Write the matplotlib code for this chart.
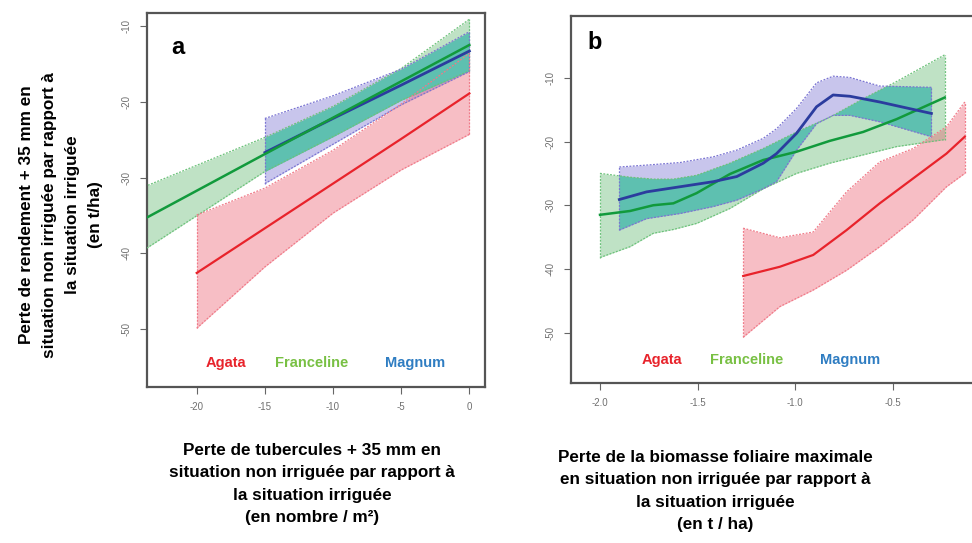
import numpy as np
import matplotlib
matplotlib.use('Agg')
import matplotlib.pyplot as plt

# Panel a : perte de tubercules (nombre / m2)
a_green_x = [-24.5, -15, -10, -5, 0]
a_green_y = [-36.1, -26.9, -22.1, -17.3, -12.5]
a_green_hi = [-31.7, -24.7, -20.6, -15.6, -9.1]
a_green_lo = [-40.3, -29.2, -24.6, -19.8, -15.9]

a_blue_x = [-15, -10, -5, 0]
a_blue_y = [-26.7, -22.2, -17.8, -13.3]
a_blue_hi = [-22.2, -19.2, -15.7, -10.75]
a_blue_lo = [-30.8, -25.6, -20.4, -16.0]

a_red_x = [-20, -15, -10, -5, 0]
a_red_y = [-42.6, -36.7, -30.8, -24.9, -18.9]
a_red_hi = [-34.95, -31.4, -26.4, -20.3, -13.6]
a_red_lo = [-49.9, -41.8, -34.7, -29.0, -24.3]

# Panel b : perte de biomasse foliaire maximale (t / ha)
b_green_x = [-2.0, -1.846, -1.727, -1.624, -1.505, -1.334, -1.163, -0.992, -0.822, -0.651, -0.480, -0.233]
b_green_y = [-31.5, -30.9, -30.0, -29.7, -28.1, -25.1, -22.9, -21.6, -19.9, -18.5, -16.5, -13.1]
b_green_hi = [-25.0, -25.6, -25.9, -25.9, -25.3, -23.4, -21.1, -18.5, -16.2, -13.3, -10.6, -6.4]
b_green_lo = [-38.2, -36.5, -34.4, -33.8, -32.85, -30.5, -27.4, -25.0, -23.4, -22.1, -20.8, -19.7]

b_blue_x = [-1.901, -1.761, -1.590, -1.419, -1.299, -1.163, -1.095, -0.992, -0.890, -0.805, -0.719, -0.566, -0.301]
b_blue_y = [-29.1, -27.9, -27.1, -26.3, -25.5, -23.4, -21.9, -18.7, -14.55, -12.7, -12.9, -13.8, -15.6]
b_blue_hi = [-24.0, -23.7, -23.3, -22.4, -21.35, -19.5, -18.0, -14.8, -10.8, -9.75, -9.95, -11.3, -11.5]
b_blue_lo = [-33.9, -32.1, -31.3, -30.2, -29.2, -27.4, -26.3, -21.35, -17.2, -15.9, -15.9, -16.9, -19.25]

b_red_x = [-1.266, -1.078, -0.907, -0.736, -0.566, -0.395, -0.224, -0.130]
b_red_y = [-41.1, -39.65, -37.8, -33.9, -29.7, -25.8, -21.9, -19.25]
b_red_hi = [-33.6, -35.1, -34.2, -27.9, -23.2, -21.1, -17.7, -13.8]
b_red_lo = [-50.7, -45.9, -43.3, -40.2, -36.5, -32.3, -27.1, -25.0]

varieties = ['Agata', 'Franceline', 'Magnum']
a_xticks = [-20, -15, -10, -5, 0]
a_xticklabels = ['-20', '-15', '-10', '-5', '0']
b_xticks = [-2.0, -1.5, -1.0, -0.5]
b_xticklabels = ['-2.0', '-1.5', '-1.0', '-0.5']
yticks = [-50, -40, -30, -20, -10]
yticklabels = ['-50', '-40', '-30', '-20', '-10']

FONT = ['Liberation Sans Narrow', 'Liberation Sans', 'DejaVu Sans']
plt.rcParams['font.family'] = FONT

# colours
line_col = {'red': '#e8232b', 'green': '#119a3c', 'blue': '#2b3c9e'}
fill_col = {'red': ('#eb5468', 0.38), 'green': ('#2ea040', 0.30), 'blue': ('#5a50c8', 0.33)}
edge_col = {'red': '#f07a88', 'green': '#6cc27a', 'blue': '#7a74d2'}
teal = '#5ec0b0'
text_col = {'Agata': '#e8232b', 'Franceline': '#78c043', 'Magnum': '#2f7dc2'}


def band(ax, x, y, hi, lo, key):
    c, a = fill_col[key]
    ax.fill_between(x, lo, hi, color=c, alpha=a, lw=0, zorder=1)
    return (x, hi, lo, key)


def edges(ax, x, y, hi, lo, key):
    ax.plot(x, hi, color=edge_col[key], lw=0.9, ls=(0, (1.5, 1.2)), zorder=3)
    ax.plot(x, lo, color=edge_col[key], lw=0.9, ls=(0, (1.5, 1.2)), zorder=3)
    ax.plot([x[0], x[0]], [lo[0], hi[0]], color=edge_col[key], lw=0.9, ls=(0, (1.5, 1.2)), zorder=3)
    ax.plot([x[-1], x[-1]], [lo[-1], hi[-1]], color=edge_col[key], lw=0.9, ls=(0, (1.5, 1.2)), zorder=3)


def overlap(ax, g, b):
    # teal where the green and blue bands cover each other
    x0 = max(g[0][0], b[0][0])
    x1 = min(g[0][-1], b[0][-1])
    xs = np.linspace(x0, x1, 500)
    hi = np.minimum(np.interp(xs, g[0], g[1]), np.interp(xs, b[0], b[1]))
    lo = np.maximum(np.interp(xs, g[0], g[2]), np.interp(xs, b[0], b[2]))
    ax.fill_between(xs, lo, hi, where=hi > lo, interpolate=True, color=teal, lw=0, zorder=2)


def style(ax, xt, xtl, xlim, ylim):
    ax.set_xlim(*xlim)
    ax.set_ylim(*ylim)
    ax.set_xticks(xt)
    ax.set_xticklabels(xtl)
    ax.set_yticks(yticks)
    ax.set_yticklabels(yticklabels, rotation=90, va='center')
    for s in ax.spines.values():
        s.set_color('#555555')
        s.set_linewidth(1.6)
    ax.tick_params(length=5, width=0.8, color='#666666', labelsize=7,
                   labelcolor='#707070', pad=6)
    for lab in ax.get_xticklabels() + ax.get_yticklabels():
        lab.set_family(['Liberation Sans', 'DejaVu Sans'])


fig = plt.figure(figsize=(9.72, 5.43), dpi=100)

# ---- panel a
ax1 = fig.add_axes([0.1512, 0.2873, 0.3478, 0.6887])
g = band(ax1, a_green_x, a_green_y, a_green_hi, a_green_lo, 'green')
b = band(ax1, a_blue_x, a_blue_y, a_blue_hi, a_blue_lo, 'blue')
band(ax1, a_red_x, a_red_y, a_red_hi, a_red_lo, 'red')
overlap(ax1, g, b)
edges(ax1, a_green_x, a_green_y, a_green_hi, a_green_lo, 'green')
edges(ax1, a_blue_x, a_blue_y, a_blue_hi, a_blue_lo, 'blue')
edges(ax1, a_red_x, a_red_y, a_red_hi, a_red_lo, 'red')
ax1.plot(a_red_x, a_red_y, color=line_col['red'], lw=1.6, zorder=4)
ax1.plot(a_blue_x, a_blue_y, color=line_col['blue'], lw=2.0, zorder=4)
ax1.plot(a_green_x, a_green_y, color=line_col['green'], lw=1.8, zorder=5)
style(ax1, a_xticks, a_xticklabels, (-23.65, 1.15), (-57.66, -8.28))
ax1.text(-21.4, -12.8, 'a', fontsize=17, fontweight='bold', ha='center', va='center')
for name, xp in zip(varieties, [-17.85, -11.6, -4.0]):
    ax1.text(xp, -54.5, name, color=text_col[name], fontsize=10.5, fontweight='bold',
             ha='center', va='center')

# ---- panel b
ax2 = fig.add_axes([0.5874, 0.2952, 0.4156, 0.6758])
g = band(ax2, b_green_x, b_green_y, b_green_hi, b_green_lo, 'green')
b = band(ax2, b_blue_x, b_blue_y, b_blue_hi, b_blue_lo, 'blue')
band(ax2, b_red_x, b_red_y, b_red_hi, b_red_lo, 'red')
overlap(ax2, g, b)
edges(ax2, b_green_x, b_green_y, b_green_hi, b_green_lo, 'green')
edges(ax2, b_blue_x, b_blue_y, b_blue_hi, b_blue_lo, 'blue')
edges(ax2, b_red_x, b_red_y, b_red_hi, b_red_lo, 'red')
ax2.plot(b_red_x, b_red_y, color=line_col['red'], lw=1.6, zorder=4)
ax2.plot(b_green_x, b_green_y, color=line_col['green'], lw=1.8, zorder=4)
ax2.plot(b_blue_x, b_blue_y, color=line_col['blue'], lw=2.0, zorder=5)
style(ax2, b_xticks, b_xticklabels, (-2.149, -0.078), (-57.84, -0.27))
ax2.text(-2.03, -4.5, 'b', fontsize=17, fontweight='bold', ha='center', va='center')
for name, xp in zip(varieties, [-1.684, -1.249, -0.716]):
    ax2.text(xp, -54.3, name, color=text_col[name], fontsize=10.5, fontweight='bold',
             ha='center', va='center')

# axis titles
fig.text(61 / 972, 1 - 215 / 543,
         'Perte de rendement + 35 mm en\nsituation non irriguée par rapport à\n'
         'la situation irriguée\n(en t/ha)',
         rotation=90, ha='center', va='center', fontsize=12.3, fontweight='bold',
         linespacing=1.68)
fig.text(312 / 972, 1 - 484 / 543,
         'Perte de tubercules + 35 mm en\nsituation non irriguée par rapport à\n'
         'la situation irriguée\n(en nombre / m²)',
         ha='center', va='center', fontsize=12.3, fontweight='bold', linespacing=1.6)
fig.text(715 / 972, 1 - 491 / 543,
         'Perte de la biomasse foliaire maximale\nen situation non irriguée par rapport à\n'
         'la situation irriguée\n(en t / ha)',
         ha='center', va='center', fontsize=12.3, fontweight='bold', linespacing=1.6)

fig.savefig('out.png', dpi=100)
